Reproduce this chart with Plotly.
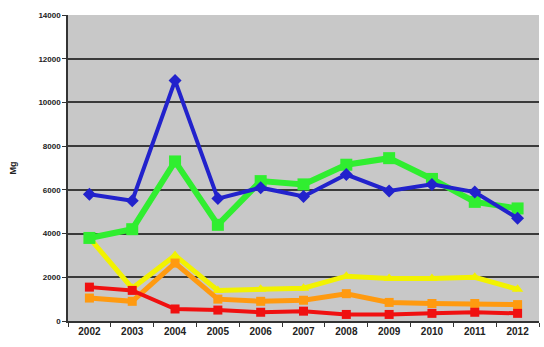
import plotly.graph_objects as go

years = ["2002", "2003", "2004", "2005", "2006", "2007", "2008", "2009", "2010", "2011", "2012"]

blue_vals = [5800, 5500, 11000, 5600, 6100, 5700, 6700, 5950, 6250, 5900, 4700]
green_vals = [3800, 4200, 7300, 4400, 6400, 6250, 7150, 7450, 6500, 5450, 5150]
yellow_vals = [3800, 1500, 3000, 1400, 1450, 1500, 2050, 1950, 1950, 2000, 1450]
orange_vals = [1050, 900, 2650, 1000, 900, 950, 1250, 850, 800, 800, 750]
red_vals = [1550, 1400, 550, 500, 400, 450, 300, 300, 350, 400, 350]

y_ticks = [0, 2000, 4000, 6000, 8000, 10000, 12000, 14000]

series = [
    (yellow_vals, "#f2f200", 5, "triangle-up", 10),
    (orange_vals, "#ff9a10", 5, "square", 9),
    (red_vals, "#f01010", 4, "square", 9),
    (green_vals, "#30ee30", 6, "square", 12),
    (blue_vals, "#2222cc", 4, "diamond", 10),
]

fig = go.Figure()
for vals, color, lw, sym, ms in series:
    fig.add_trace(go.Scatter(
        x=years, y=vals, mode="lines+markers",
        line=dict(color=color, width=lw),
        marker=dict(symbol=sym, size=ms, color=color),
        showlegend=False,
    ))

fig.update_layout(
    width=544, height=347,
    margin=dict(l=68, r=5, t=15, b=26),
    paper_bgcolor="white",
    plot_bgcolor="#c8c8c8",
    font=dict(family="Liberation Sans, Arial, sans-serif", size=9, color="#222"),
)
fig.update_xaxes(
    type="category", range=[-0.5, 10.5],
    showgrid=False, showline=True, linecolor="#333", linewidth=1.5,
    ticks="outside", tickson="boundaries", ticklen=4, tickcolor="#333",
    tickfont=dict(size=10, family="Liberation Sans, Arial, sans-serif", weight="bold"),
)
fig.update_yaxes(
    range=[0, 14000], tickvals=y_ticks, ticktext=[str(v) for v in y_ticks],
    showgrid=True, gridcolor="#3a3a3a", gridwidth=1.5,
    showline=True, linecolor="#333", linewidth=1.5,
    ticks="outside", ticklen=4, tickcolor="#333", zeroline=False,
    tickfont=dict(size=8, family="Liberation Sans, Arial, sans-serif", weight="bold"),
    title=dict(text="Mg", standoff=20,
               font=dict(size=9, family="Liberation Sans, Arial, sans-serif", weight="bold")),
)

fig.write_html("out.html")
